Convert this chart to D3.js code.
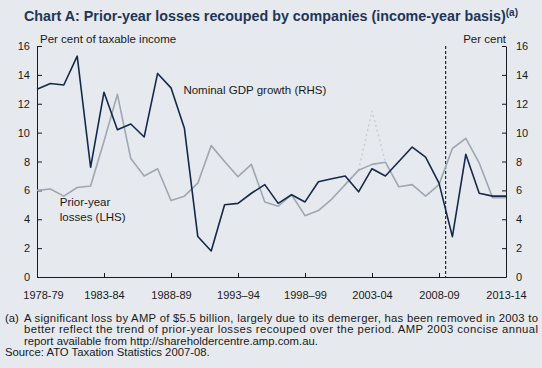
<!DOCTYPE html>
<html>
<head>
<meta charset="utf-8">
<script src="https://cdn.jsdelivr.net/npm/d3@7"></script>
<style>
  html, body { margin: 0; padding: 0; background: #e6e9ee; }
  svg { display: block; font-family: "Liberation Sans", Arial, sans-serif; }
</style>
</head>
<body>
<div id="container"></div>
<script>
/* DATA */
const years = ["1978-79","1979-80","1980-81","1981-82","1982-83","1983-84","1984-85","1985-86",
  "1986-87","1987-88","1988-89","1989-90","1990-91","1991-92","1992-93","1993-94","1994-95",
  "1995-96","1996-97","1997-98","1998-99","1999-00","2000-01","2001-02","2002-03","2003-04",
  "2004-05","2005-06","2006-07","2007-08","2008-09","2009-10","2010-11","2011-12","2012-13","2013-14"];

// Nominal GDP growth, per cent (RHS)
const gdpGrowth = [13.0, 13.4, 13.3, 15.3, 7.6, 12.8, 10.2, 10.6, 9.7, 14.1, 13.1, 10.3,
  2.8, 1.8, 5.0, 5.1, 5.8, 6.4, 5.1, 5.7, 5.2, 6.6, 6.8, 7.0, 5.9, 7.5, 7.0, 8.0, 9.0, 8.3,
  6.5, 2.8, 8.5, 5.8, 5.6, 5.6];

// Prior-year losses, per cent of taxable income (LHS)
const priorLosses = [6.0, 6.1, 5.6, 6.2, 6.3, 9.4, 12.65, 8.2, 7.0, 7.5, 5.3, 5.6, 6.5,
  9.1, 8.0, 6.95, 7.8, 5.2, 4.9, 5.7, 4.25, 4.6, 5.4, 6.4, 7.4, 7.8, 7.95, 6.25, 6.4, 5.6,
  6.4, 8.9, 9.6, 7.9, 5.5, 5.5];

// including the AMP loss (dotted)
const ampYears = ["2002-03", "2003-04", "2004-05"];
const ampLosses = [7.4, 11.5, 7.95];

const tickYears = ["1978-79","1983-84","1988-89","1993-94","1998-99","2003-04","2008-09","2013-14"];
const tickLabels = ["1978-79","1983-84","1988-89","1993–94","1998–99","2003-04","2008-09","2013-14"];
const yTicks = [0, 2, 4, 6, 8, 10, 12, 14, 16];
const forecastStart = "2009-10";

/* CONSTANTS */
const W = 542, H = 368;
const plot = { left: 37, right: 506, top: 46, bottom: 277 };
const navy = "#15294a", grey = "#9ea7b2", ink = "#1a1a1a";

const svg = d3.select("#container")
  .append("svg")
  .attr("width", W)
  .attr("height", H)
  .style("background-color", "#e6e9ee");

const x = d3.scalePoint().domain(years).range([plot.left, plot.right]);
const y = d3.scaleLinear().domain([0, 16]).range([plot.bottom, plot.top]);

// title
const title = svg.append("text")
  .attr("x", 24).attr("y", 21)
  .style("font-size", "14.3px").style("font-weight", "bold")
  .attr("fill", "#1f3558")
  .text("Chart A: Prior-year losses recouped by companies (income-year basis)");
title.append("tspan")
  .attr("dy", -5).style("font-size", "10px")
  .text("(a)");

// axes
const axisStyle = g => {
  g.selectAll("path, line").attr("stroke", ink);
  g.selectAll("text").attr("fill", ink).style("font-size", "11px")
    .style("font-family", "Liberation Sans, Arial, sans-serif");
};

svg.append("g")
  .attr("transform", `translate(${plot.left},0)`)
  .call(d3.axisLeft(y).tickValues(yTicks).tickSizeInner(-5).tickSizeOuter(0).tickPadding(7))
  .call(axisStyle);

svg.append("g")
  .attr("transform", `translate(${plot.right},0)`)
  .call(d3.axisRight(y).tickValues(yTicks).tickSizeInner(-4).tickSizeOuter(0).tickPadding(10))
  .call(axisStyle);

const xAxis = svg.append("g")
  .attr("transform", `translate(0,${plot.bottom})`)
  .call(d3.axisBottom(x).tickValues(tickYears).tickSizeInner(-4).tickSizeOuter(0).tickPadding(14)
    .tickFormat((d, i) => tickLabels[i]))
  .call(axisStyle);
// first label sits a little clear of the left axis
xAxis.select(".tick text").attr("dx", 6);

// axis titles
svg.append("text").attr("x", plot.left + 3).attr("y", 43)
  .style("font-size", "11.5px").attr("fill", ink).text("Per cent of taxable income");
svg.append("text").attr("x", plot.right).attr("y", 43).attr("text-anchor", "end")
  .style("font-size", "11.5px").attr("fill", ink).text("Per cent");

// forecast divider
const xi = years.indexOf(forecastStart);
const xDiv = (x(years[xi - 1]) + x(years[xi])) / 2;
svg.append("line")
  .attr("x1", xDiv).attr("x2", xDiv)
  .attr("y1", y(16)).attr("y2", y(0))
  .attr("stroke", "#000").attr("stroke-width", 1)
  .attr("stroke-dasharray", "3,2");

// lines
const line = d3.line().x(d => x(d[0])).y(d => y(d[1]));

svg.append("path")
  .attr("d", line(d3.zip(ampYears, ampLosses)))
  .attr("fill", "none").attr("stroke", "#c9cfd7").attr("stroke-width", 1.5)
  .attr("stroke-dasharray", "2,3");

svg.append("path")
  .attr("d", line(d3.zip(years, priorLosses)))
  .attr("fill", "none").attr("stroke", grey).attr("stroke-width", 1.6)
  .attr("stroke-linejoin", "round");

svg.append("path")
  .attr("d", line(d3.zip(years, gdpGrowth)))
  .attr("fill", "none").attr("stroke", navy).attr("stroke-width", 1.6)
  .attr("stroke-linejoin", "round");

// series labels
svg.append("text").attr("x", x(years[11]) - 1).attr("y", y(12.7))
  .style("font-size", "11.5px").attr("fill", ink).text("Nominal GDP growth (RHS)");
svg.append("text").attr("x", x(years[2]) - 4).attr("y", y(4.9))
  .style("font-size", "11.5px").attr("fill", ink).text("Prior-year");
svg.append("text").attr("x", x(years[2]) - 4).attr("y", y(3.9))
  .style("font-size", "11.5px").attr("fill", ink).text("losses (LHS)");

// footnotes
const notes = [
  "A significant loss by AMP of $5.5 billion, largely due to its demerger, has been removed in 2003 to",
  "better reflect the trend of prior-year losses recouped over the period. AMP 2003 concise annual",
  "report available from http://shareholdercentre.amp.com.au."
];
const fn = svg.append("g").style("font-size", "11.3px").attr("fill", ink);
fn.append("text").attr("x", 5).attr("y", 322).text("(a)");
notes.forEach((t, i) => {
  const tx = fn.append("text").attr("x", 24).attr("y", 322 + i * 11.3).text(t);
  if (i < 2) tx.attr("textLength", 514).attr("lengthAdjust", "spacing");
});
fn.append("text").attr("x", 5).attr("y", 356).text("Source: ATO Taxation Statistics 2007-08.");
</script>
</body>
</html>
